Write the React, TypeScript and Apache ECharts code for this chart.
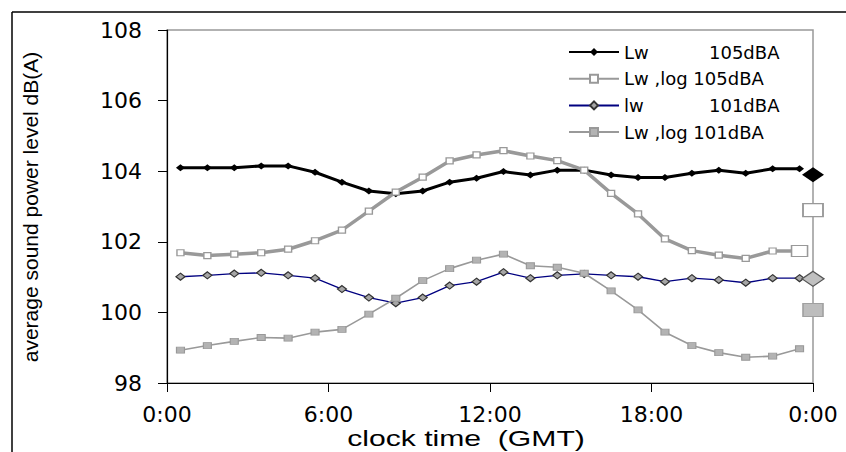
import { useEffect, useRef } from "react";
import * as echarts from "echarts";

const hours = [0.5, 1.5, 2.5, 3.5, 4.5, 5.5, 6.5, 7.5, 8.5, 9.5, 10.5, 11.5, 12.5, 13.5, 14.5, 15.5, 16.5, 17.5, 18.5, 19.5, 20.5, 21.5, 22.5, 23.5];
const lw105 = [104.10, 104.10, 104.10, 104.15, 104.15, 103.97, 103.69, 103.44, 103.36, 103.44, 103.69, 103.80, 103.99, 103.89, 104.03, 104.03, 103.89, 103.82, 103.82, 103.94, 104.03, 103.94, 104.07, 104.07];
const lwLog105 = [101.69, 101.61, 101.65, 101.69, 101.79, 102.03, 102.33, 102.87, 103.41, 103.83, 104.29, 104.46, 104.58, 104.43, 104.30, 104.03, 103.37, 102.79, 102.08, 101.75, 101.62, 101.53, 101.74, 101.74];
const lw101 = [101.01, 101.05, 101.10, 101.12, 101.05, 100.97, 100.66, 100.42, 100.26, 100.42, 100.76, 100.87, 101.14, 100.97, 101.05, 101.09, 101.05, 101.01, 100.87, 100.97, 100.92, 100.84, 100.97, 100.97];
const lwLog101 = [98.93, 99.06, 99.18, 99.29, 99.27, 99.44, 99.52, 99.95, 100.40, 100.90, 101.24, 101.48, 101.65, 101.32, 101.28, 101.11, 100.61, 100.07, 99.44, 99.06, 98.86, 98.73, 98.76, 98.97];
const endHour = 24;
const endValues = [103.9, 102.9, 100.95, 100.07];
const seriesNames = ["Lw 105dBA", "Lw ,log 105dBA", "lw 101dBA", "Lw ,log 101dBA"];
const xTickLabels = ["0:00", "6:00", "12:00", "18:00", "0:00"];
const xAxisTitle = "clock time  (GMT)";
const yAxisTitle = "average sound power level dB(A)";

const TICK_FONT = "DejaVu Sans";

function pairs(vals: number[]) {
  return vals.map((v, i) => [hours[i], v]);
}

export default function App() {
  const ref = useRef<HTMLDivElement>(null);
  useEffect(() => {
    if (!ref.current) return;
    const chart = echarts.init(ref.current, null, { renderer: "svg" });
    const log105Data: any[] = pairs(lwLog105);
    const last = log105Data.length - 1;
    log105Data[last] = { value: log105Data[last], symbolSize: [16, 11] };

    const richBase = { fontFamily: TICK_FONT, fontSize: 18, color: "#000", lineHeight: 20 };
    const option: any = {
      animation: false,
      backgroundColor: "#fff",
      grid: {
        left: 167,
        right: 33,
        top: 30,
        bottom: 69,
        show: true,
        borderColor: "#999",
        borderWidth: 1.5,
        backgroundColor: "transparent",
      },
      legend: {
        data: seriesNames,
        orient: "vertical",
        left: 568,
        top: 42,
        padding: 0,
        itemWidth: 50,
        itemHeight: 10,
        itemGap: 6.7,
        textStyle: {
          ...richBase,
          rich: {
            a: { ...richBase, width: 85 },
            b: { ...richBase },
            c: { ...richBase },
          },
        },
        formatter: (name: string) => {
          if (name === seriesNames[0]) return "{a|Lw}{b|105dBA}";
          if (name === seriesNames[2]) return "{a|lw}{b|101dBA}";
          return "{c|" + name + "}";
        },
      },
      xAxis: {
        type: "value",
        min: 0,
        max: 24,
        interval: 6,
        axisLine: { lineStyle: { color: "#000", width: 1.2 } },
        axisTick: { show: true, length: 9, lineStyle: { color: "#000" } },
        axisLabel: {
          margin: 20,
          fontFamily: TICK_FONT,
          fontSize: 22,
          color: "#000",
          formatter: (_v: number, i: number) => xTickLabels[i],
        },
        splitLine: { show: false },
      },
      yAxis: {
        type: "value",
        min: 98,
        max: 108,
        interval: 2,
        axisLine: { show: true, lineStyle: { color: "#000", width: 1.2 } },
        axisTick: { show: true, length: 9, lineStyle: { color: "#000" } },
        axisLabel: { margin: 25, fontFamily: TICK_FONT, fontSize: 22, color: "#000" },
        splitLine: { show: false },
      },
      series: [
        {
          name: seriesNames[0],
          type: "line",
          data: pairs(lw105),
          symbol: "diamond",
          symbolSize: [9, 7],
          itemStyle: { color: "#000" },
          lineStyle: { color: "#000", width: 3 },
        },
        {
          name: seriesNames[1],
          type: "line",
          data: log105Data,
          symbol: "rect",
          symbolSize: [7, 6],
          itemStyle: { color: "#fff", borderColor: "#999", borderWidth: 1.3 },
          lineStyle: { color: "#999", width: 3.5 },
        },
        {
          name: seriesNames[2],
          type: "line",
          data: pairs(lw101),
          symbol: "diamond",
          symbolSize: [9, 7],
          itemStyle: { color: "#a6a6a6", borderColor: "#333", borderWidth: 1.2 },
          lineStyle: { color: "#000080", width: 1.3 },
        },
        {
          name: seriesNames[3],
          type: "line",
          data: pairs(lwLog101),
          symbol: "rect",
          symbolSize: [8, 6],
          itemStyle: { color: "#b3b3b3", borderColor: "#999", borderWidth: 1 },
          lineStyle: { color: "#999", width: 1.6 },
        },
        {
          name: "end",
          type: "scatter",
          clip: false,
          z: 5,
          itemStyle: { opacity: 1 },
          data: [
            { value: [endHour, endValues[0]], symbol: "diamond", symbolSize: [22, 15], itemStyle: { color: "#000", opacity: 1 } },
            { value: [endHour, endValues[1]], symbol: "rect", symbolSize: [20, 13], itemStyle: { color: "#fff", borderColor: "#999", borderWidth: 1.5, opacity: 1 } },
            { value: [endHour, endValues[2]], symbol: "diamond", symbolSize: [22, 15], itemStyle: { color: "#c0c0c0", borderColor: "#555", borderWidth: 1.3, opacity: 1 } },
            { value: [endHour, endValues[3]], symbol: "rect", symbolSize: [20, 13], itemStyle: { color: "#bdbdbd", borderColor: "#a0a0a0", borderWidth: 1.3, opacity: 1 } },
          ],
        },
      ],
      graphic: [
        { type: "line", shape: { x1: 12, y1: 12, x2: 846, y2: 12 }, style: { stroke: "#000", lineWidth: 1.5 } },
        { type: "line", shape: { x1: 12, y1: 12, x2: 12, y2: 452 }, style: { stroke: "#000", lineWidth: 1.5 } },
        {
          type: "text",
          x: 466,
          y: 438,
          scaleX: 1.37,
          style: {
            text: xAxisTitle,
            fill: "#000",
            fontSize: 22,
            fontFamily: "Liberation Sans",
            align: "center",
            verticalAlign: "middle",
            textAlign: "center",
            textVerticalAlign: "middle",
          },
        },
        {
          type: "text",
          x: 30,
          y: 207,
          rotation: Math.PI / 2,
          style: {
            text: yAxisTitle,
            fill: "#000",
            fontSize: 21,
            fontFamily: "Liberation Sans",
            align: "center",
            verticalAlign: "middle",
            textAlign: "center",
            textVerticalAlign: "middle",
          },
        },
      ],
    };
    chart.setOption(option);
    return () => chart.dispose();
  }, []);
  return (
    <div
      ref={ref}
      style={{ position: "fixed", left: 0, top: 0, width: 846, height: 452 }}
    />
  );
}
